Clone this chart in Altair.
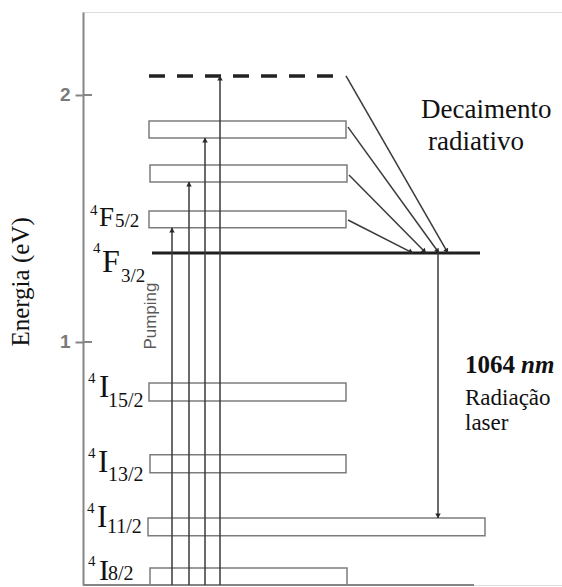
import math
import altair as alt
import pandas as pd

# ---------------- data (energies in eV) ----------------
box_levels = ["4I9/2", "4I11/2", "4I13/2", "4I15/2", "4F5/2", "banda 1", "banda 2"]
box_e_low = [0.016, 0.215, 0.470, 0.761, 1.462, 1.648, 1.826]
box_e_high = [0.085, 0.287, 0.543, 0.834, 1.530, 1.717, 1.895]

metastable_e = 1.360          # 4F3/2
pump_band_e = 2.077           # dashed pump band

pump_from = [0.016, 0.016, 0.016, 0.016]
pump_to = [1.462, 1.648, 1.826, 2.077]

decay_from = [1.494, 1.676, 1.870, 2.077]
decay_to = [1.360, 1.360, 1.360, 1.360]

laser_from, laser_to = 1.360, 0.287

y_ticks = [1, 2]

label_letters = ["I", "I", "I", "I", "F", "F"]
label_subs = ["8/2", "11/2", "13/2", "15/2", "3/2", "5/2"]
label_sups = ["4", "4", "4", "4", "4", "4"]
label_anchor_e = [0.016, 0.215, 0.470, 0.761, 1.360, 1.462]

# ---------------- layout (x in px from the energy axis) ----------------
PX_PER_EV = 573 / 2.32
Y_MIN, Y_MAX = 0.016, 2.336
X_MIN, X_MAX = 0, 479

box_x0 = [67, 65, 67, 66, 66, 67, 66]
box_x1 = [264, 402, 263, 263, 263, 264, 263]
meta_x = (69, 397)
band_x = (66, 256)
pump_x = [89, 106, 122, 137]
decay_x0 = [265, 266, 265, 263]
decay_x1 = [330, 343, 356, 365]
laser_x = 355

# label part layout: (x, baseline offset px (down +), font size)
sup_lay = [(5, -19, 15), (4, -23, 15), (5, -15, 15), (5, -18, 15), (10, 0, 15), (7, -13, 15)]
let_lay = [(16, -5, 30), (14, -9, 31), (15, -1, 31), (16, -4, 31), (19, 19, 32), (16, -2, 27)]
sub_lay = [(25, -5, 20), (24, -3, 20), (25, 8, 20), (25, 6, 20), (38, 29, 19), (32, -1, 19)]

GREY = "#858585"
BOX = "#7c7c7c"
ARROW = "#3a3a3a"
SERIF = "Liberation Serif"

xs = alt.Scale(domain=[X_MIN, X_MAX], nice=False, zero=False)
ys = alt.Scale(domain=[Y_MIN, Y_MAX], nice=False, zero=False)
yaxis = alt.Axis(values=y_ticks, title=None, grid=False, domainColor=GREY, domainWidth=2,
                 tickColor=GREY, tickWidth=2, tickSize=8, labelFont="Liberation Sans",
                 labelFontSize=19, labelFontWeight="bold", labelColor="#7a7a7a",
                 labelPadding=5)


def X(f):
    return alt.X(f, type="quantitative", scale=xs, axis=None)


def Y(f):
    return alt.Y(f, type="quantitative", scale=ys, axis=yaxis)


# boxes
boxes_df = pd.DataFrame({"level": box_levels, "lo": box_e_low, "hi": box_e_high,
                         "x0": box_x0, "x1": box_x1})
boxes = alt.Chart(boxes_df).mark_rect(fill="white", stroke=BOX, strokeWidth=1.5).encode(
    x=X("x0"), x2="x1", y=Y("lo"), y2="hi")

# bottom axis line and inner tick stubs
base_df = pd.DataFrame({"x0": [0], "x1": [391], "e": [Y_MIN]})
base_line = alt.Chart(base_df).mark_rule(color=GREY, strokeWidth=2).encode(
    x=X("x0"), x2="x1", y=Y("e"))
stub_df = pd.DataFrame({"x0": [0] * len(y_ticks), "x1": [9] * len(y_ticks), "e": y_ticks})
stubs = alt.Chart(stub_df).mark_rule(color=GREY, strokeWidth=2).encode(
    x=X("x0"), x2="x1", y=Y("e"))

# 4F3/2 line
meta_df = pd.DataFrame({"x0": [meta_x[0]], "x1": [meta_x[1]], "e": [metastable_e]})
meta = alt.Chart(meta_df).mark_rule(color="#1e1e1e", strokeWidth=3).encode(
    x=X("x0"), x2="x1", y=Y("e"))

# dashed pump band
band_df = pd.DataFrame({"x0": [band_x[0]], "x1": [band_x[1]], "e": [pump_band_e]})
band = alt.Chart(band_df).mark_rule(color="#222222", strokeWidth=3.5, strokeDash=[16, 12]).encode(
    x=X("x0"), x2="x1", y=Y("e"))

# pumping arrows
pump_df = pd.DataFrame({"x": pump_x, "e0": pump_from, "e1": pump_to})
pumps = alt.Chart(pump_df).mark_rule(color=ARROW, strokeWidth=1.5).encode(
    x=X("x"), y=Y("e0"), y2="e1")

# decay arrows
decay_df = pd.DataFrame({"x0": decay_x0, "x1": decay_x1, "e0": decay_from, "e1": decay_to})
decays = alt.Chart(decay_df).mark_rule(color=ARROW, strokeWidth=1.5).encode(
    x=X("x0"), x2="x1", y=Y("e0"), y2="e1")

# laser arrow
laser_df = pd.DataFrame({"x": [laser_x], "e0": [laser_from], "e1": [laser_to]})
laser = alt.Chart(laser_df).mark_rule(color=ARROW, strokeWidth=1.5).encode(
    x=X("x"), y=Y("e0"), y2="e1")

# arrow heads
heads = []


def add_head(x0, e0, x1, e1, back=3.0):
    dx = x1 - x0
    dy_down = (e0 - e1) * PX_PER_EV
    ln = math.hypot(dx, dy_down)
    ang = math.degrees(math.atan2(dx, -dy_down)) % 360
    hx = x1 - dx / ln * back
    he = e1 + (dy_down / ln * back) / PX_PER_EV
    heads.append({"x": hx, "e": he, "ang": ang})


for x, a, b in zip(pump_x, pump_from, pump_to):
    add_head(x, a, x, b)
for x0, x1, a, b in zip(decay_x0, decay_x1, decay_from, decay_to):
    add_head(x0, a, x1, b)
add_head(laser_x, laser_from, laser_x, laser_to)
heads_df = pd.DataFrame(heads)
arrowheads = alt.Chart(heads_df).mark_point(shape="triangle", filled=True, color="#2a2a2a",
                                            opacity=1, size=30, strokeWidth=0).encode(
    x=X("x"), y=Y("e"), angle=alt.Angle("ang:Q", scale=None))

# level labels
rows = []
for i in range(len(label_letters)):
    for part, txt, lay in (("sup", label_sups[i], sup_lay[i]),
                           ("let", label_letters[i], let_lay[i]),
                           ("sub", label_subs[i], sub_lay[i])):
        rows.append({"t": txt, "x": lay[0], "e": label_anchor_e[i] - lay[1] / PX_PER_EV,
                     "fs": lay[2]})
lab_df = pd.DataFrame(rows)
level_labels = alt.Chart(lab_df).mark_text(font=SERIF, align="left", baseline="alphabetic",
                                           color="#111111").encode(
    x=X("x"), y=Y("e"), text="t:N", size=alt.Size("fs:Q", scale=None))

# annotation texts
ann_df = pd.DataFrame({
    "t": ["Decaimento", "radiativo", "Radiação", "laser"],
    "x": [338, 345, 382, 382],
    "e": [1.907, 1.777, 0.745, 0.645],
    "fs": [27, 27, 23, 23],
})
annotations = alt.Chart(ann_df).mark_text(font=SERIF, align="left", baseline="alphabetic",
                                          color="#111111").encode(
    x=X("x"), y=Y("e"), text="t:N", size=alt.Size("fs:Q", scale=None))

bold_df = pd.DataFrame({"t": ["1064"], "x": [382], "e": [0.874]})
bold_txt = alt.Chart(bold_df).mark_text(font=SERIF, align="left", baseline="alphabetic",
                                        fontWeight="bold", fontSize=25, color="#111111").encode(
    x=X("x"), y=Y("e"), text="t:N")
nm_df = pd.DataFrame({"t": ["nm"], "x": [438], "e": [0.874]})
nm_txt = alt.Chart(nm_df).mark_text(font=SERIF, align="left", baseline="alphabetic",
                                    fontWeight="bold", fontStyle="italic", fontSize=25,
                                    color="#111111").encode(
    x=X("x"), y=Y("e"), text="t:N")

ylab_df = pd.DataFrame({"t": ["Energia (eV)"], "x": [-62], "e": [1.243]})
ylab = alt.Chart(ylab_df).mark_text(font=SERIF, fontSize=25, angle=270, align="center",
                                    baseline="middle", color="#111111").encode(
    x=X("x"), y=Y("e"), text="t:N")

pump_lab_df = pd.DataFrame({"t": ["Pumping"], "x": [68], "e": [1.105]})
pump_lab = alt.Chart(pump_lab_df).mark_text(font="Liberation Sans", fontSize=17, angle=270,
                                            align="center", baseline="middle",
                                            color="#5a5a5a").encode(
    x=X("x"), y=Y("e"), text="t:N")

chart = alt.layer(
    boxes, base_line, stubs, meta, band, pumps, decays, laser, arrowheads,
    level_labels, annotations, bold_txt, nm_txt, ylab, pump_lab,
).properties(
    width=479, height=573, autosize="none",
    padding={"left": 83, "top": 12, "right": 0, "bottom": 2},
).configure_view(stroke=None).configure(background="white")

chart.save("out.html", embed_options={"renderer": "svg", "actions": False})
